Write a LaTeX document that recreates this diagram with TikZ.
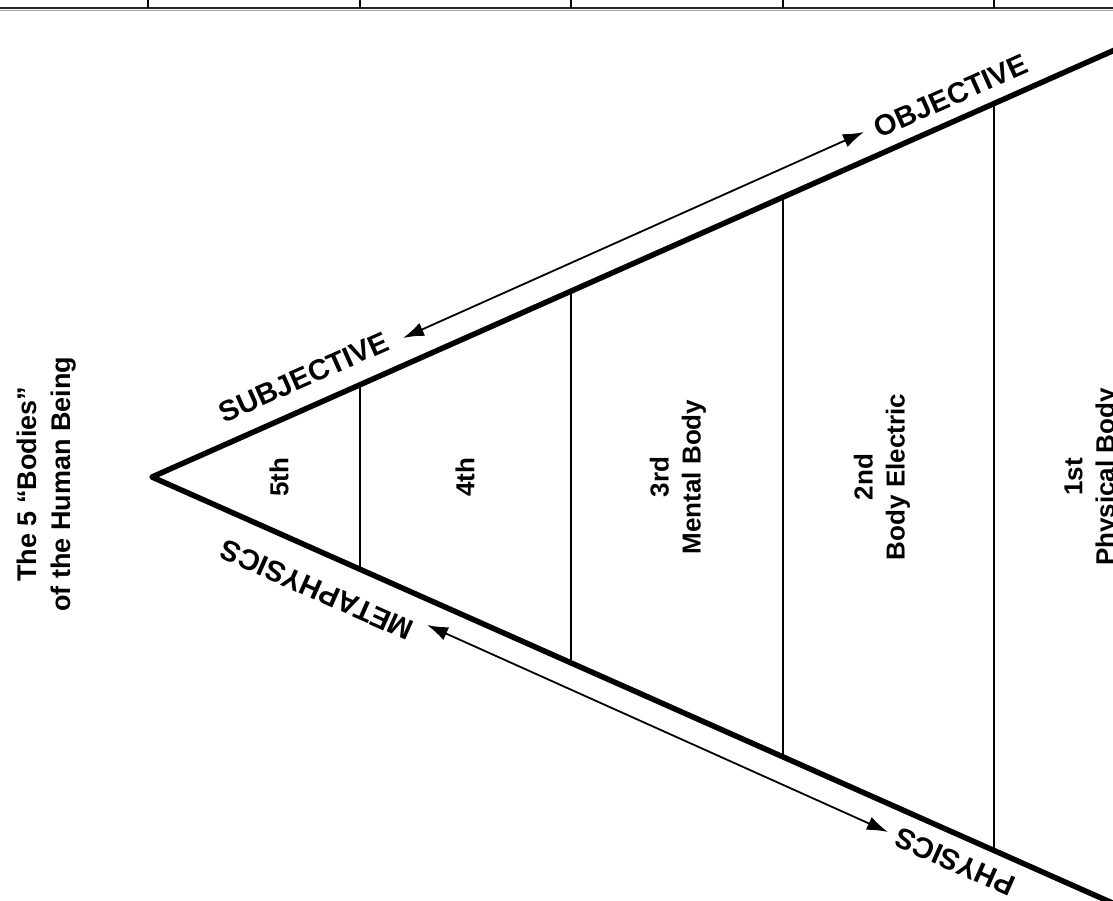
\documentclass[tikz,border=0pt]{standalone}
\usepackage{fontspec}
\setmainfont{Liberation Sans}
\usetikzlibrary{arrows.meta}
\tikzset{
  thickline/.style={line width=5.5pt, line join=round},
  divider/.style={line width=1.5pt},
  topline/.style={line width=2pt, black!85},
  dblarrow/.style={line width=1.8pt, {Latex[length=21pt,width=14pt]}-{Latex[length=21pt,width=14pt]}},
  lbl/.style={font=\fontsize{26}{32}\selectfont\bfseries, inner sep=0pt, align=center},
  slbl/.style={font=\fontsize{29}{34}\selectfont\bfseries, inner sep=0pt},
  ttl/.style={font=\fontsize{27}{34}\selectfont\bfseries, inner sep=0pt, align=center}
}
\begin{document}
\begin{tikzpicture}[x=1pt,y=-1pt]
\useasboundingbox (0,0) rectangle (1113,900);
\clip (0,0) rectangle (1113,900);
% top ruler
\coordinate (rl) at (0,8);
\coordinate (rr) at (1113,8);
\draw[black!35, line width=1pt] (0,10.5) -- (1113,10.5);
\draw[topline] (rl) -- (rr);
\foreach \x/\n in {148/r0,360/r1,571/r2,783/r3,994/r4} {
  \coordinate (\n t) at (\x,0);
  \coordinate (\n b) at (\x,8);
  \draw[divider] (\n t) -- (\n b);
}
% triangle
\coordinate (A) at (152,477);
\coordinate (U) at (1157.5,31);
\coordinate (L) at (1157.5,923);
\draw[thickline] (U) -- (A) -- (L);
% dividers
\coordinate (t1) at (360,384.7); \coordinate (b1) at (360,569.3);
\coordinate (t2) at (571,291.1); \coordinate (b2) at (571,662.9);
\coordinate (t3) at (783,197.1); \coordinate (b3) at (783,756.9);
\coordinate (t4) at (994,103.5); \coordinate (b4) at (994,850.5);
\draw[divider] (t1) -- (b1);
\draw[divider] (t2) -- (b2);
\draw[divider] (t3) -- (b3);
\draw[divider] (t4) -- (b4);
% arrows
\coordinate (ua1) at (403,338);
\coordinate (ua2) at (864,132);
\coordinate (la1) at (427,625);
\coordinate (la2) at (888,832);
\draw[dblarrow] (ua1) -- (ua2);
\draw[dblarrow] (la1) -- (la2);
% slanted labels
\node[slbl, rotate=23.9] (subj) at (304,377) {SUBJECTIVE};
\node[slbl, rotate=23.9] (obj) at (951,96) {OBJECTIVE};
\node[slbl, rotate=156.1] (meta) at (317,590) {METAPHYSICS};
\node[slbl, rotate=156.1] (phys) at (955,862) {PHYSICS};
% body labels
\node[lbl, rotate=90] (b5) at (279,477) {5th};
\node[lbl, rotate=90] (b4l) at (465,477) {4th};
\node[lbl, rotate=90] (b3l) at (678,477) {3rd\\Mental Body};
\node[lbl, rotate=90] (b2l) at (882,477) {2nd\\Body Electric};
\node[lbl, rotate=90] (b1l) at (1092,477) {1st\\Physical Body};
% title
\node[ttl, rotate=90] (title) at (47,484) {The 5 “Bodies”\\of the Human Being};
\end{tikzpicture}
\end{document}
